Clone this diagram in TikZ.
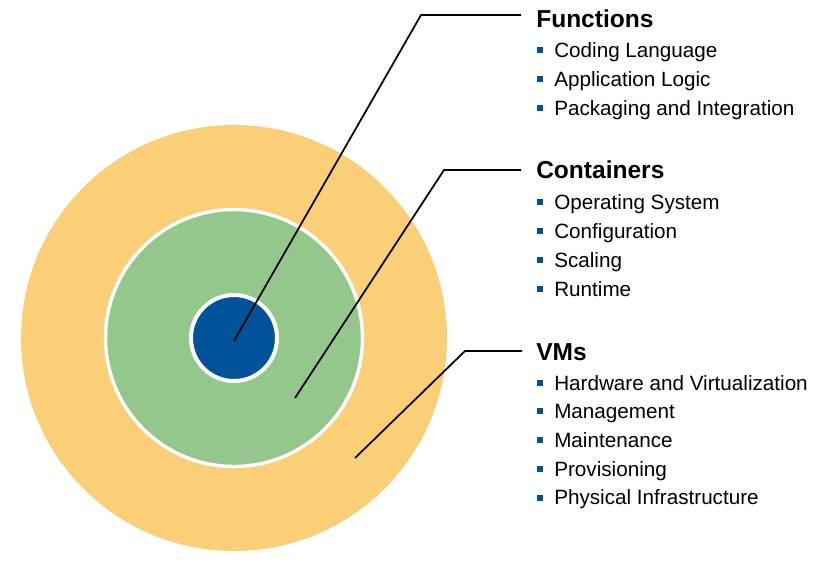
\documentclass[tikz,border=0pt]{standalone}
\usepackage{fontspec}
\setmainfont{Liberation Sans}
\definecolor{vmorange}{RGB}{251,207,119}
\definecolor{cgreen}{RGB}{147,199,139}
\definecolor{fblue}{RGB}{0,82,155}
\begin{document}
\begin{tikzpicture}[x=0.75pt,y=-0.75pt,
  title/.style={anchor=base west,inner sep=0pt,font=\fontsize{18.4pt}{22pt}\selectfont\bfseries},
  item/.style={anchor=base west,inner sep=0pt,font=\fontsize{15.5pt}{18pt}\selectfont},
  bul/.style={fill=fblue,draw=none,minimum size=4.5pt,inner sep=0pt},
  leader/.style={draw=black,line width=1.3pt}]
\useasboundingbox (0,0) rectangle (827,561);
% circles
\node[circle,fill=vmorange,minimum size=426*0.75pt,inner sep=0pt] (vm) at (234,338) {};
\node[circle,fill=cgreen,draw=white,line width=2.6pt,minimum size=257*0.75pt,inner sep=0pt] (ct) at (234,338) {};
\node[circle,fill=fblue,draw=white,line width=3pt,minimum size=86*0.75pt,inner sep=0pt] (fn) at (234,338) {};
% anchor points
\coordinate (pf) at (234,341);
\coordinate (pc) at (295,398);
\coordinate (pv) at (355,458);
\coordinate (kf) at (421,15);
\coordinate (kc) at (444,170);
\coordinate (kv) at (465,351);
\coordinate (ef) at (521,15);
\coordinate (ec) at (521,170);
\coordinate (ev) at (522,351);
\draw[leader] (pf) -- (kf) -- (ef);
\draw[leader] (pc) -- (kc) -- (ec);
\draw[leader] (pv) -- (kv) -- (ev);
% titles
\node[title] (tf) at (536,27) {Functions};
\node[title] (tc) at (536,178) {Containers};
\node[title] (tv) at (536,360) {VMs};
% items
\foreach \name/\y/\txt in {f1/57/Coding Language, f2/86/Application Logic, f3/115/Packaging and Integration,
  c1/209/Operating System, c2/238/Configuration, c3/267/Scaling, c4/296/Runtime,
  v1/390/Hardware and Virtualization, v2/418.7/Management, v3/447.4/Maintenance, v4/476.1/Provisioning, v5/504.8/Physical Infrastructure}{
  \node[bul] (b\name) at (539.5,\y-7.3) {};
  \node[item] (\name) at (554,\y) {\txt};
}
\end{tikzpicture}
\end{document}
